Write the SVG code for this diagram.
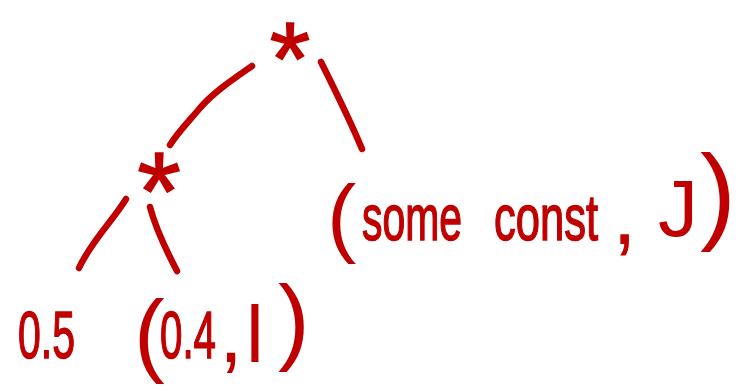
<svg xmlns="http://www.w3.org/2000/svg" width="739" height="391" viewBox="0 0 739 391">
  <style>
    .ink { fill: #c00000; font-family: "Liberation Sans", Arial, sans-serif; }
    .thick { stroke: #c00000; stroke-width: 1.5; }
    .star { fill: #c00000; font-family: "Liberation Sans", Arial, sans-serif; text-anchor: middle; }
    .edge { fill: none; stroke: #c00000; stroke-width: 6.5; stroke-linecap: round; stroke-linejoin: round; }
  </style>
  <rect width="739" height="391" fill="#ffffff"/>
  <g id="connectors">
    <path class="edge" d="M252,66 C232,80 214,92 200,108 C190,120 178,132 170,145"/>
    <path class="edge" d="M321,62 C336,92 350,120 362,149"/>
    <path class="edge" d="M126,199 C112,222 92,240 79,268"/>
    <path class="edge" d="M150,207 C156,230 166,250 177,271"/>
  </g>
  <g id="root">
    <text class="star thick" x="290" y="95" font-size="104">*</text>
  </g>
  <g id="mul">
    <text class="star thick" x="159" y="230" font-size="112">*</text>
  </g>
  <g id="leaf-const">
    <text class="ink"><tspan x="327" y="246" font-size="88">(</tspan><tspan class="thick" x="362" y="240" font-size="64" textLength="100" lengthAdjust="spacingAndGlyphs">some</tspan><tspan class="thick" x="494" y="240" font-size="64" textLength="104" lengthAdjust="spacingAndGlyphs">const</tspan><tspan x="612" y="244" font-size="90">,</tspan><tspan x="658" y="236" font-size="80">J</tspan><tspan x="700" y="230" font-size="108">)</tspan></text>
  </g>
  <g id="leaf-half">
    <text class="ink thick" x="18" y="358" font-size="66" textLength="57" lengthAdjust="spacingAndGlyphs">0.5</text>
  </g>
  <g id="leaf-pair">
    <text class="ink"><tspan x="134" y="365" font-size="92">(</tspan><tspan class="thick" x="160" y="358" font-size="66" textLength="56" lengthAdjust="spacingAndGlyphs">0.4</tspan><tspan x="219" y="362" font-size="86">,</tspan><tspan x="246" y="362" font-size="80">l</tspan><tspan x="278" y="352" font-size="95">)</tspan></text>
  </g>
</svg>
